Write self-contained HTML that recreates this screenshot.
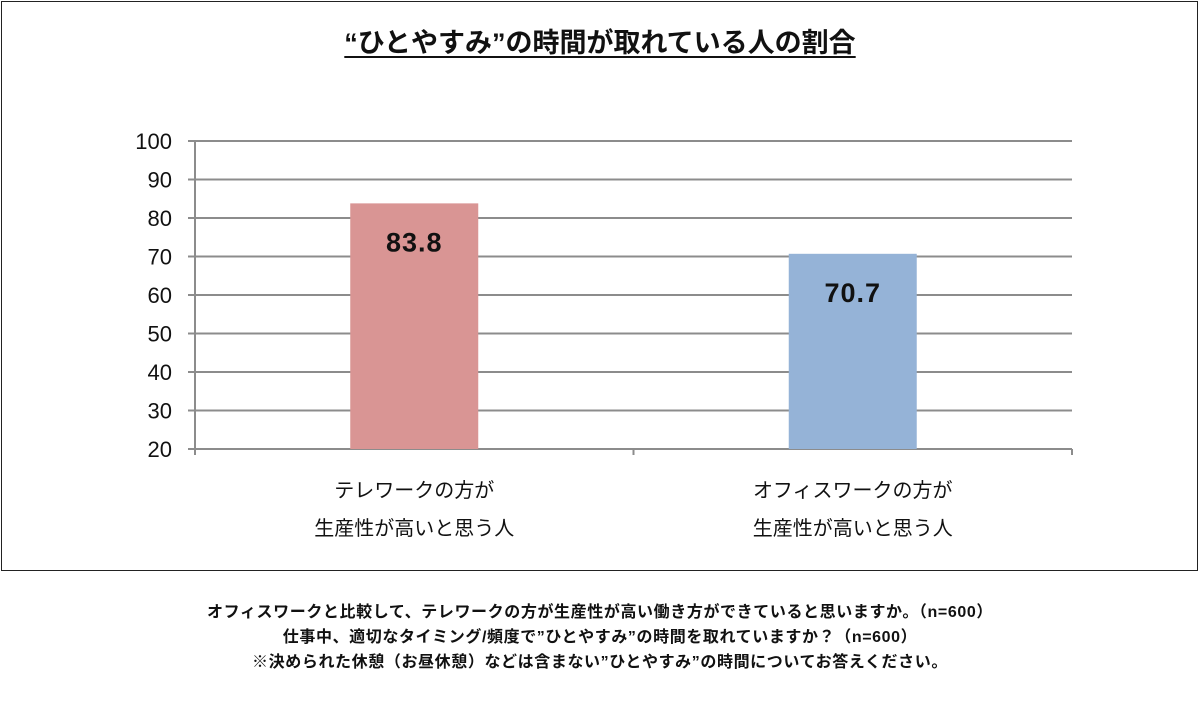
<!DOCTYPE html>
<html><head><meta charset="utf-8"><style>
body{margin:0;width:1200px;height:706px;background:#fff;overflow:hidden;font-family:"Liberation Sans","Noto Sans CJK JP",sans-serif}
.frame{position:absolute;left:1px;top:1px;width:1197px;height:570px;border:1.5px solid #222;box-sizing:border-box}
.title{position:absolute;left:0;width:1200px;top:21px;text-align:center;font-size:27px;font-weight:bold;color:#111}
.title span{text-decoration:underline;text-underline-offset:4px}
.notes{position:absolute;left:0;width:1200px;top:600px;text-align:center;font-size:16px;letter-spacing:0.6px;font-weight:bold;line-height:25px;color:#111}
svg{position:absolute;left:0;top:0}
</style></head><body>
<div class="frame"></div>
<div class="title"><span>“ひとやすみ”の時間が取れている人の割合</span></div>
<svg id="chart" width="1200" height="600"></svg>
<div class="notes">
<div>オフィスワークと比較して、テレワークの方が生産性が高い働き方ができていると思いますか。（n=600）</div>
<div>仕事中、適切なタイミング/頻度で”ひとやすみ”の時間を取れていますか？（n=600）</div>
<div>※決められた休憩（お昼休憩）などは含まない”ひとやすみ”の時間についてお答えください。</div>
</div>
<script>
const categoriesLine1 = ["テレワークの方が", "オフィスワークの方が"];
const categoriesLine2 = ["生産性が高いと思う人", "生産性が高いと思う人"];
const values = [83.8, 70.7];
const valueLabels = ["83.8", "70.7"];
const yTicks = [20, 30, 40, 50, 60, 70, 80, 90, 100];
const colors = ["#d99594", "#95b3d7"];

const svg = document.getElementById('chart');
const NS = 'http://www.w3.org/2000/svg';
const x0 = 195, x1 = 1072, yTop = 141, yBot = 449, yMin = 20, yMax = 100;
const y = v => yBot - (v - yMin) / (yMax - yMin) * (yBot - yTop);
const band = (x1 - x0) / categoriesLine1.length;
const cx = i => x0 + band * (i + 0.5);
const barW = 128;
function mk(tag, attrs) { const e = document.createElementNS(NS, tag); for (const k in attrs) e.setAttribute(k, attrs[k]); svg.appendChild(e); return e; }

yTicks.forEach(t => {
  const g = mk('line', {x1: 188, x2: x1, y1: y(t), y2: y(t), stroke: '#8c8c8c', 'stroke-width': 2});
  
  
  const tx = mk('text', {x: 172, y: y(t) + 8, 'text-anchor': 'end', 'font-size': 22, fill: '#111'});
  tx.textContent = t;
  
  
});
const ax = mk('line', {x1: x0, x2: x0, y1: yTop, y2: yBot + 6, stroke: '#8c8c8c', 'stroke-width': 2});


for (let i = 0; i <= categoriesLine1.length; i++) {
  const tk = mk('line', {x1: x0 + band * i, x2: x0 + band * i, y1: yBot, y2: yBot + 6, stroke: '#8c8c8c', 'stroke-width': 2});
  
  
}
values.forEach((v, i) => {
  const r = mk('rect', {x: cx(i) - barW / 2, y: y(v), width: barW, height: yBot - y(v), fill: colors[i]});
  
  
  const vl = mk('text', {x: cx(i), y: y(v) + 48, 'text-anchor': 'middle', 'font-size': 27, 'font-weight': 'bold', 'letter-spacing': 1, fill: '#111'});
  vl.textContent = valueLabels[i];
  
  
  const c1 = mk('text', {x: cx(i), y: 497, 'text-anchor': 'middle', 'font-size': 20, fill: '#111'});
  c1.textContent = categoriesLine1[i];
  
  
  const c2 = mk('text', {x: cx(i), y: 535, 'text-anchor': 'middle', 'font-size': 20, fill: '#111'});
  c2.textContent = categoriesLine2[i];
  
  
});
</script>
</body></html>
